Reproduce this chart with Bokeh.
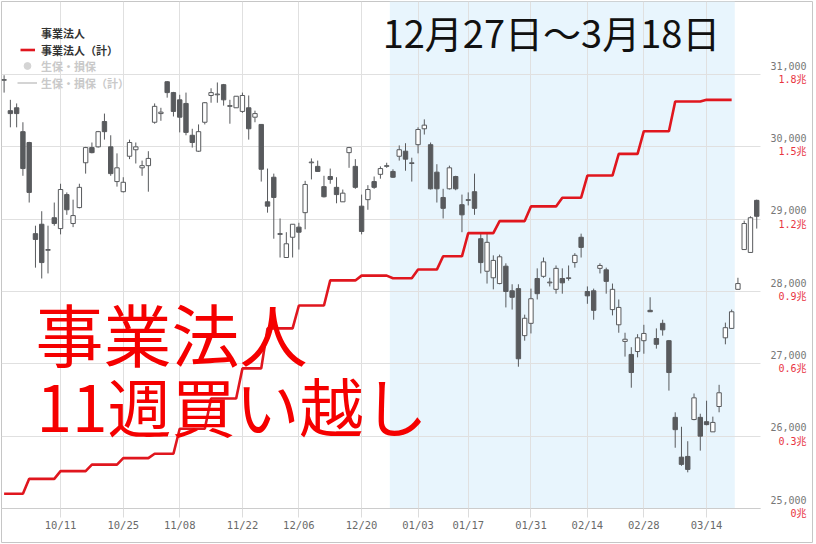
import numpy as np
import pandas as pd
from bokeh.plotting import figure
from bokeh.models import (ColumnDataSource, Range1d, LinearAxis, FixedTicker,
                          NumeralTickFormatter, BoxAnnotation, Label, Legend,
                          LegendItem, Grid)
from bokeh.core.properties import value
from bokeh.embed import file_html
from bokeh.resources import INLINE

# ---- data -------------------------------------------------------------
# TSE sessions 2021-09-28 .. 2022-03-25 (weekday calendar minus market holidays)
market_holidays = ["2021-11-03", "2021-11-23", "2021-12-31", "2022-01-03",
                   "2022-01-10", "2022-02-11", "2022-02-23", "2022-03-21"]

opens = [30920, 30500, 30540, 30210, 30060, 28800, 28930, 28570, 29020,
         28870, 29340, 28940, 29160, 29780, 29990, 30000, 30350, 30000, 29520,
         29380, 29870, 29960, 29710, 29740, 30340, 30460, 30900, 30750, 30650,
         30600, 30160, 29940, 30340, 30710, 30720, 30860, 30560, 30540, 30490,
         30540, 30410, 30310, 29240, 29580, 28800, 28470, 28750, 28890, 29090,
         29780, 29730, 29450, 29590, 29440, 29240, 29920, 29730, 29180, 29270,
         29520, 29620, 29730, 29660, 29870, 29940, 29770, 30030, 30250, 30030,
         29650, 29300, 29420, 29590, 29200, 29260, 29380, 28730, 28280, 28190,
         28110, 28350, 28010, 28040, 27390, 27560, 28180, 28210, 28120, 28030,
         28180, 28180, 28400, 28750, 28000, 28010, 28320, 28300, 27750, 27540,
         27310, 27130, 27170, 27320, 27740, 27350, 27560, 27320, 26260, 25710,
         25720, 26230, 26260, 26200, 26060, 26410, 27360, 27490, 28030, 28580,
         28540, 29260]
highs = [30990, 30650, 30600, 30340, 30070, 28910, 29110, 28910, 29230,
         29490, 29370, 29270, 29490, 30000, 30060, 30220, 30460, 30160, 29910,
         29580, 30100, 30060, 29810, 29940, 30600, 30540, 30910, 30760, 30720,
         30750, 30250, 30310, 30620, 30810, 30890, 30870, 30650, 30700, 30750,
         30710, 30500, 30310, 29700, 29630, 29010, 28820, 28930, 28950, 29530,
         29840, 29810, 29600, 29700, 29580, 29410, 30000, 29830, 29340, 29470,
         29590, 29730, 29780, 29690, 30020, 30050, 29850, 30270, 30380, 30060,
         29760, 29420, 29740, 29600, 29340, 29370, 29630, 28800, 28800, 28500,
         28510, 28390, 28100, 28100, 27680, 28040, 28320, 28470, 28190, 28360,
         28320, 28360, 28530, 28800, 28070, 28040, 28390, 28330, 28110, 27890,
         27430, 27230, 27410, 27540, 27920, 27490, 27610, 27330, 26330, 26130,
         25930, 26590, 26310, 26490, 26270, 26710, 27570, 27750, 28190, 28980,
         29040, 29270]
lows = [30750, 30270, 30270, 29600, 29230, 28330, 28180, 28250, 28910,
        28790, 29060, 28890, 29150, 29630, 29910, 29990, 30100, 29600, 29450,
        29370, 29830, 29770, 29600, 29380, 30320, 30360, 30680, 30420, 30200,
        30160, 29990, 29930, 30310, 30610, 30610, 30570, 30320, 30540, 30470,
        30100, 30340, 29520, 29090, 28730, 28470, 28470, 28470, 28580, 28860,
        29550, 29660, 29300, 29490, 29220, 29240, 29710, 29420, 28790, 29130,
        29420, 29560, 29710, 29570, 29810, 29670, 29520, 29910, 30170, 29410,
        29230, 29010, 29410, 29400, 28820, 29190, 29060, 28250, 28110, 28030,
        28100, 27780, 27750, 26960, 27320, 27420, 27890, 28190, 28070, 27970,
        27970, 28150, 28330, 28470, 27830, 27610, 28250, 27970, 27670, 27430,
        27100, 26670, 27090, 27140, 27720, 27210, 27390, 26630, 25840, 25590,
        25500, 26220, 25800, 26150, 26060, 26330, 27270, 27490, 28030, 28580,
        28540, 28870]
closes = [30930, 30460, 30460, 29700, 29370, 28720, 28400, 28580, 28940,
          29410, 29130, 29050, 29440, 29990, 29920, 30210, 30210, 29630, 29710,
          29510, 30060, 30000, 29740, 29840, 30560, 30480, 30750, 30490, 30410,
          30200, 30060, 30210, 30610, 30750, 30730, 30650, 30570, 30700, 30710,
          30250, 30460, 29690, 29180, 29300, 28790, 28660, 28930, 28820, 29480,
          29790, 29660, 29310, 29550, 29340, 29360, 29990, 29440, 28830, 29410,
          29440, 29700, 29740, 29580, 29960, 29830, 29780, 30240, 30300, 29420,
          29420, 29150, 29710, 29420, 29060, 29270, 29150, 28400, 28680, 28430,
          28480, 28000, 27920, 27070, 27630, 27900, 27970, 28410, 28130, 28320,
          28120, 28190, 28500, 28610, 27940, 27740, 28360, 28140, 28030, 27780,
          27340, 26880, 27360, 27420, 27720, 27270, 27470, 26880, 26090, 25610,
          25540, 26530, 26000, 26160, 26190, 26600, 27500, 27720, 28110, 28940,
          29020, 29040]

# 事業法人: cumulative weekly net purchases (trillion yen), by week (Monday)
week_start = ["2021-09-27", "2021-10-04", "2021-10-11", "2021-10-18",
              "2021-10-25", "2021-11-01", "2021-11-08", "2021-11-15",
              "2021-11-22", "2021-11-29", "2021-12-06", "2021-12-13",
              "2021-12-20", "2021-12-27", "2022-01-03", "2022-01-10",
              "2022-01-17", "2022-01-24", "2022-01-31", "2022-02-07",
              "2022-02-14", "2022-02-21", "2022-02-28", "2022-03-07",
              "2022-03-14"]
corp_cum = [0.061, 0.123, 0.155, 0.182, 0.209, 0.227, 0.331, 0.456, 0.581,
            0.747, 0.842, 0.946, 0.966, 0.955, 0.991, 1.046, 1.142, 1.192,
            1.253, 1.289, 1.381, 1.471, 1.565, 1.688, 1.695]

# highlighted period
span_start, span_end = "2021-12-27", "2022-03-18"

# axis ticks
date_ticks = ["2021-10-11", "2021-10-25", "2021-11-08", "2021-11-22",
              "2021-12-06", "2021-12-20", "2022-01-03", "2022-01-17",
              "2022-01-31", "2022-02-14", "2022-02-28", "2022-03-14"]
price_ticks = [25000, 26000, 27000, 28000, 29000, 30000, 31000]
cho_ticks = [0.0, 0.3, 0.6, 0.9, 1.2, 1.5, 1.8]

# ---- derived ----------------------------------------------------------
sessions = pd.bdate_range("2021-09-28", "2022-03-25")
sessions = sessions[~sessions.isin(pd.to_datetime(market_holidays))]
n = len(sessions)
pos = np.arange(n)

o, h, l, c = (np.array(a, dtype=float) for a in (opens, highs, lows, closes))
up = c >= o
candles = ColumnDataSource(dict(
    x=pos, high=h, low=l,
    top=np.maximum(o, c), bottom=np.minimum(o, c),
    fill=np.where(up, "#ffffff", "#585a5d"),
))

weekly = dict(zip(pd.to_datetime(week_start), corp_cum))
in_span = sessions <= pd.Timestamp(span_end)
monday = sessions[in_span] - pd.to_timedelta(sessions[in_span].weekday, unit="D")
corp_src = ColumnDataSource(dict(x=pos[in_span], y=[weekly[m] for m in monday]))

tick_pos = [int(v) for v in sessions.searchsorted(pd.to_datetime(date_ticks))]
tick_lbl = [pd.Timestamp(d).strftime("%m/%d") for d in date_ticks]

band_l = sessions.get_loc(pd.Timestamp(span_start)) - 0.5
band_r = sessions.get_loc(pd.Timestamp(span_end)) + 0.5

# ---- frame geometry (pixels) -----------------------------------------
W, H = 816, 544
BL, BT, BR, BB = 1, 1, 4, 2
frame_w, frame_h = W - BL - BR, H - BT - BB
px_x = 6.272                     # pixels per session
X0 = -(3.6 - BL) / px_x          # first session sits ~2.6 px inside the frame
X1 = X0 + frame_w / px_x
px_y = 72.33                     # pixels per 1,000 yen
Y0 = 25000 - (H - BB - 508) / px_y * 1000
Y1 = Y0 + frame_h / px_y * 1000
per_px = (Y1 - Y0) / frame_h
AX_X = X0 + (760 - BL) / px_x    # right edge of the chart body

def cho(v):
    return (v - 25000) * 0.3 / 1000

p = figure(width=W, height=H, x_range=Range1d(X0, X1), y_range=Range1d(Y0, Y1),
           x_axis_location=None, y_axis_location=None, toolbar_location=None,
           output_backend="svg", min_border_left=BL, min_border_top=BT,
           min_border_right=BR, min_border_bottom=BB,
           outline_line_color="#c6c6c6", background_fill_color="white",
           border_fill_color="white")
p.extra_y_ranges = {
    "cho": Range1d(cho(Y0), cho(Y1)),
    "lbl_px": Range1d(Y0 - 9 * per_px, Y1 - 9 * per_px),
    "lbl_cho": Range1d(cho(Y0 + 5 * per_px), cho(Y1 + 5 * per_px)),
}

# highlighted period band, below the grid
p.center = []
p.add_layout(BoxAnnotation(left=band_l, right=band_r, bottom=25000,
                           fill_color="#e8f5fd", fill_alpha=1, line_color=None,
                           level="image"))

xt = FixedTicker(ticks=tick_pos)
yt = FixedTicker(ticks=price_ticks)
xgrid = Grid(dimension=0, ticker=xt, grid_line_color="#e0e0e0")
ygrid = Grid(dimension=1, ticker=yt, grid_line_color="#e0e0e0")
if "cross_bounds" in Grid.properties():
    xgrid.cross_bounds = (25000, Y1)
    ygrid.cross_bounds = (X0, AX_X)
p.add_layout(xgrid)
p.add_layout(ygrid)

# candlesticks
p.segment(x0="x", x1="x", y0="low", y1="high", source=candles,
          line_color="#585a5d", line_width=1)
p.vbar(x="x", width=0.7, top="top", bottom="bottom", source=candles,
       fill_color="fill", line_color="#585a5d", line_width=1)

# cumulative corporate net purchases
r_corp = p.line(x="x", y="y", source=corp_src, y_range_name="cho",
                line_color="#e0161e", line_width=2.6)

# legend entries; the insurer series are switched off, so they carry no points
r_head = p.scatter(x=[np.nan], y=[np.nan], size=0, fill_alpha=0, line_alpha=0)
r_ins = p.scatter(x=[np.nan], y=[np.nan], marker="circle", size=9,
                  fill_color="#d4d4d4", line_color="#d4d4d4")
r_ins_cum = p.line(x=[np.nan], y=[np.nan], line_color="#d4d4d4", line_width=2)

legend_style = dict(click_policy="none", padding=0, margin=0, spacing=0,
                    border_line_color=None, background_fill_alpha=0,
                    glyph_height=17, label_height=17,
                    label_text_font="Noto Sans CJK JP",
                    label_text_font_style="bold", label_text_font_size="11px")
p.add_layout(Legend(items=[
    LegendItem(label=value("事業法人"), renderers=[r_head]),
    LegendItem(label=value("事業法人（計）"), renderers=[r_corp]),
], location=(19, 484), glyph_width=15, label_standoff=6,
    label_text_color="#333333", **legend_style))
p.add_layout(Legend(items=[
    LegendItem(label=value("生保・損保"), renderers=[r_ins]),
    LegendItem(label=value("生保・損保（計）"), renderers=[r_ins_cum]),
], location=(16, 451), glyph_width=20, label_standoff=4,
    label_text_color="#c9c9c9", **legend_style))

# axes
mono = "DejaVu Sans Mono, Noto Sans CJK JP"
xaxis = LinearAxis(ticker=xt, fixed_location=25000, bounds=(X0, AX_X),
                   major_label_overrides=dict(zip(tick_pos, tick_lbl)),
                   axis_line_color="#cccccc", major_tick_line_color="#dcdcdc",
                   major_tick_out=9, major_tick_in=0, minor_tick_out=0,
                   minor_tick_in=0, major_label_standoff=1,
                   major_label_text_font=mono, major_label_text_font_size="10.5px",
                   major_label_text_color="#6a6a6a")
p.add_layout(xaxis, "below")

yaxis = LinearAxis(y_range_name="lbl_px", ticker=yt,
                   formatter=NumeralTickFormatter(format="0,0"),
                   fixed_location=AX_X, axis_line_color=None,
                   major_tick_line_color=None, minor_tick_line_color=None,
                   major_tick_out=0, major_tick_in=0, minor_tick_out=0,
                   minor_tick_in=0, major_label_standoff=10,
                   major_label_text_font=mono, major_label_text_font_size="10px",
                   major_label_text_color="#777777")
p.add_layout(yaxis, "right")

num = [f"{v:g}" for v in cho_ticks]
width = max(len(s) for s in num)
cho_labels = {v: "\u00a0" * (width - len(s)) + s + "兆" for v, s in zip(cho_ticks, num)}
caxis = LinearAxis(y_range_name="lbl_cho", ticker=FixedTicker(ticks=cho_ticks),
                   major_label_overrides=cho_labels,
                   fixed_location=AX_X, axis_line_color=None,
                   major_tick_line_color=None, minor_tick_line_color=None,
                   major_tick_out=0, major_tick_in=0, minor_tick_out=0,
                   minor_tick_in=0, major_label_standoff=18,
                   major_label_text_font=mono, major_label_text_font_size="10px",
                   major_label_text_color="#e8343f")
p.add_layout(caxis, "right")

# headline and callout
jp = "Noto Sans CJK JP"
p.add_layout(Label(x=550, y=H - BB - 31, x_units="screen", y_units="screen",
                   text="12月27日～3月18日", text_font=jp, text_font_size="38px",
                   text_color="#111111", text_align="center", text_baseline="middle"))
p.add_layout(Label(x=34, y=H - BB - 332, x_units="screen", y_units="screen",
                   text="事業法人", text_font=jp, text_font_size="68px",
                   text_color="#f50000", text_align="left", text_baseline="middle"))
p.add_layout(Label(x=35, y=H - BB - 403, x_units="screen", y_units="screen",
                   text="11週買い越し", text_font=jp, text_font_size="64px",
                   text_color="#f50000", text_align="left", text_baseline="middle"))

open("out.html", "w").write(file_html(p, INLINE))
